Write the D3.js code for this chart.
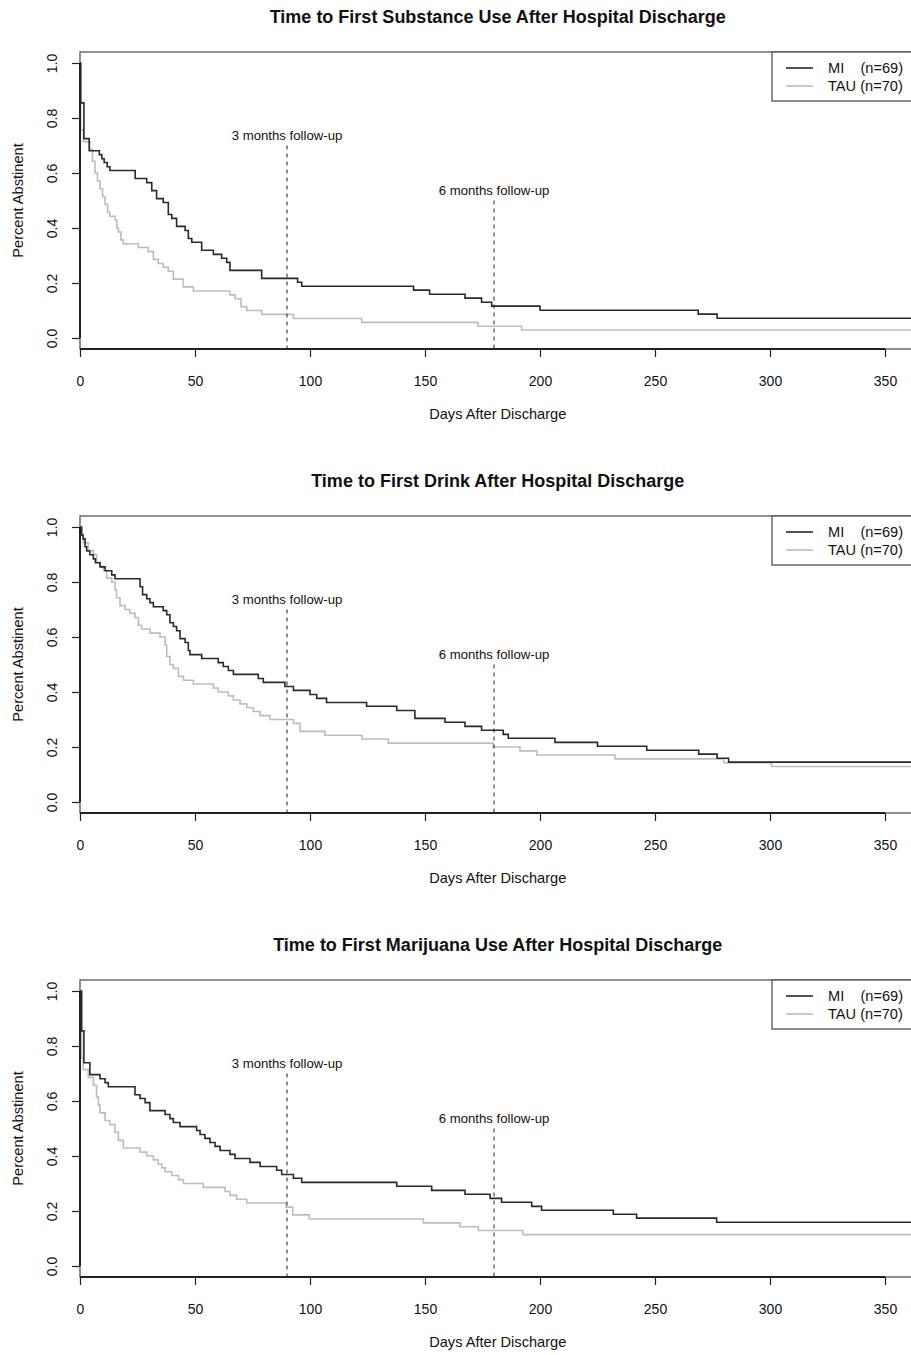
<!DOCTYPE html>
<html>
<head>
<meta charset="utf-8">
<script src="https://cdn.jsdelivr.net/npm/d3@7"></script>
<style>
body { margin: 0; background: #fff; }
text { font-family: "Liberation Sans", Arial, Helvetica, sans-serif; fill: #111; }
</style>
</head>
<body>
<script>
// Chart data
var titles = ["Time to First Substance Use After Hospital Discharge",
              "Time to First Drink After Hospital Discharge",
              "Time to First Marijuana Use After Hospital Discharge"];
var legendLabels = ["MI    (n=69)", "TAU (n=70)"];
var xTicks = [0, 50, 100, 150, 200, 250, 300, 350];
var yTicks = [0, 0.2, 0.4, 0.6, 0.8, 1.0];
var followUps = [90, 180];
var followUpLabels = ["3 months follow-up", "6 months follow-up"];

var substanceMiDays = [0, 0.3, 1.7, 4, 8.4, 9.5, 10.5, 11.8, 13, 24, 29, 31.2, 33.3, 36.2, 38.4, 39.9, 42, 45.7, 47.1, 48.6, 52.9, 58, 61.6, 63.8, 65.2, 79, 94.6, 96.4, 145, 152, 167.4, 174.6, 179, 200, 268.8, 277];
var substanceMiSurv = [1, 0.855, 0.725, 0.681, 0.667, 0.652, 0.638, 0.623, 0.609, 0.580, 0.565, 0.536, 0.507, 0.493, 0.449, 0.435, 0.406, 0.391, 0.362, 0.348, 0.319, 0.304, 0.290, 0.275, 0.246, 0.217, 0.203, 0.188, 0.174, 0.159, 0.145, 0.130, 0.116, 0.101, 0.087, 0.072];
var substanceTauDays = [0, 0.3, 1.45, 4.3, 5.4, 6.5, 7.6, 8.7, 9.8, 10.9, 12, 13, 15.2, 16, 16.7, 17.8, 18.8, 25.4, 29.7, 31.9, 34, 36.2, 38.4, 40.6, 44.9, 49.3, 65.2, 67.4, 70, 72.5, 79, 92.8, 122.5, 173, 192];
var substanceTauSurv = [1, 0.757, 0.714, 0.686, 0.643, 0.600, 0.571, 0.543, 0.514, 0.486, 0.457, 0.443, 0.429, 0.400, 0.386, 0.357, 0.343, 0.329, 0.314, 0.286, 0.271, 0.257, 0.243, 0.214, 0.186, 0.171, 0.157, 0.143, 0.114, 0.100, 0.086, 0.071, 0.057, 0.043, 0.029];

var drinkMiDays = [0, 0.7, 1.4, 2.2, 2.9, 4.3, 5.8, 6.7, 8.7, 10.9, 13.8, 15.2, 26.1, 27.2, 29, 30.4, 31.9, 36.2, 37.7, 39.1, 40.6, 42, 43.5, 45.7, 47.1, 47.8, 52.9, 60.1, 62.3, 64.5, 66.7, 77.5, 79.7, 89.1, 92.8, 100, 102.9, 107.2, 124.6, 137.7, 145.6, 158.7, 167.4, 174.6, 184, 186.2, 206.5, 225, 246.4, 269, 277, 282];
var drinkMiSurv = [1, 0.971, 0.957, 0.928, 0.913, 0.899, 0.884, 0.870, 0.855, 0.841, 0.826, 0.812, 0.783, 0.754, 0.739, 0.725, 0.710, 0.696, 0.681, 0.652, 0.638, 0.623, 0.594, 0.580, 0.551, 0.536, 0.522, 0.507, 0.493, 0.478, 0.464, 0.449, 0.435, 0.420, 0.406, 0.391, 0.377, 0.362, 0.348, 0.333, 0.304, 0.290, 0.275, 0.261, 0.246, 0.232, 0.217, 0.203, 0.188, 0.174, 0.159, 0.145];
var drinkTauDays = [0, 0.7, 1.4, 3.6, 5.8, 7.2, 8.7, 10.1, 11.6, 13.8, 15.2, 15.9, 17.4, 19.6, 21.7, 23.9, 25.4, 26.8, 30.4, 34.8, 37, 37.7, 39.1, 40.6, 42.8, 45, 49.3, 58, 60.1, 64.5, 66.7, 69.6, 72.5, 75.4, 78.3, 82.6, 92.8, 95.7, 106.5, 122.5, 134, 179.7, 191.3, 198.6, 232.6, 280, 300.7];
var drinkTauSurv = [1, 0.971, 0.943, 0.914, 0.900, 0.871, 0.857, 0.843, 0.814, 0.800, 0.771, 0.743, 0.714, 0.700, 0.686, 0.671, 0.643, 0.629, 0.614, 0.600, 0.571, 0.529, 0.500, 0.486, 0.457, 0.443, 0.429, 0.414, 0.400, 0.386, 0.371, 0.357, 0.343, 0.329, 0.314, 0.300, 0.286, 0.257, 0.243, 0.229, 0.214, 0.200, 0.186, 0.171, 0.157, 0.143, 0.129];

var marijuanaMiDays = [0, 0.7, 1.7, 4.3, 8.7, 10.9, 12.3, 23.9, 26.1, 28.3, 30.4, 37, 39.1, 40.6, 43.5, 50.7, 52.2, 54.3, 56.5, 58.7, 60.9, 65.2, 67.4, 73.9, 78.3, 85.5, 87.7, 92.8, 96.4, 137.7, 152.9, 167.4, 178.3, 183.3, 196.4, 200.7, 231.9, 242, 276.8];
var marijuanaMiSurv = [1, 0.855, 0.739, 0.696, 0.681, 0.667, 0.652, 0.623, 0.609, 0.594, 0.565, 0.551, 0.536, 0.522, 0.507, 0.493, 0.478, 0.464, 0.449, 0.435, 0.420, 0.406, 0.391, 0.377, 0.362, 0.348, 0.333, 0.319, 0.304, 0.290, 0.275, 0.261, 0.246, 0.232, 0.217, 0.203, 0.188, 0.174, 0.159];
var marijuanaTauDays = [0, 0.7, 1.4, 3.6, 5.8, 7.2, 8, 8.7, 10.9, 13, 15.2, 16.7, 18.8, 26.1, 29, 31.9, 34, 35.5, 37, 39.9, 42.8, 45, 53.6, 63.1, 65.2, 68.1, 72.5, 89.6, 92.5, 99.7, 149.3, 165.2, 173.2, 192.5];
var marijuanaTauSurv = [1, 0.757, 0.714, 0.686, 0.657, 0.614, 0.586, 0.557, 0.529, 0.514, 0.486, 0.457, 0.429, 0.414, 0.400, 0.386, 0.371, 0.357, 0.343, 0.329, 0.314, 0.300, 0.286, 0.271, 0.257, 0.243, 0.229, 0.214, 0.186, 0.171, 0.157, 0.143, 0.129, 0.114];
//////////////////////////////

var maxDay = 365;
var panels = [
	{ title: titles[0], mi: [substanceMiDays, substanceMiSurv], tau: [substanceTauDays, substanceTauSurv] },
	{ title: titles[1], mi: [drinkMiDays, drinkMiSurv], tau: [drinkTauDays, drinkTauSurv] },
	{ title: titles[2], mi: [marijuanaMiDays, marijuanaMiSurv], tau: [marijuanaTauDays, marijuanaTauSurv] }
];

var width = 911, height = 1355;
var left = 80, right = 919.5;
var panelTops = [52, 516, 980];
var panelH = 297;
var colors = ["#2a2a2a", "#bdbdbd"];

var svg = d3.select("body").append("svg")
	.attr("width", width)
	.attr("height", height);

var x = d3.scaleLinear().domain([0, maxDay]).range([left, right]);

function toPoints(series) {
	var pts = series[0].map(function (d, i) { return [d, series[1][i]]; });
	pts.push([maxDay, series[1][series[1].length - 1]]);
	return pts;
}

panels.forEach(function (p, i) {
	var top = panelTops[i], bottom = top + panelH;
	var y = d3.scaleLinear().domain([-0.04, 1.04]).range([bottom, top]);
	var g = svg.append("g");
	var cx = (left + right) / 2;

	// title
	g.append("text")
		.attr("x", cx - 2)
		.attr("y", top - 29)
		.attr("text-anchor", "middle")
		.attr("font-weight", "bold")
		.attr("font-size", "18px")
		.text(p.title);

	// survival curves
	var line = d3.line()
		.x(function (d) { return x(d[0]); })
		.y(function (d) { return y(d[1]); })
		.curve(d3.curveStepAfter);

	[p.tau, p.mi].forEach(function (s, k) {
		g.append("path")
			.datum(toPoints(s))
			.attr("d", line)
			.attr("fill", "none")
			.attr("stroke", colors[1 - k])
			.attr("stroke-width", 1.6);
	});

	// follow-up markers
	followUps.forEach(function (f, k) {
		var topVal = k === 0 ? 0.70 : 0.50;
		g.append("line")
			.attr("x1", x(f)).attr("x2", x(f))
			.attr("y1", y(topVal)).attr("y2", bottom)
			.attr("stroke", "#222")
			.attr("stroke-width", 1)
			.attr("stroke-dasharray", "4,4");
		g.append("text")
			.attr("x", x(f))
			.attr("y", y(topVal + 0.04) + 5)
			.attr("text-anchor", "middle")
			.attr("font-size", "13.2px")
			.text(followUpLabels[k]);
	});

	// box
	g.append("rect")
		.attr("x", left).attr("y", top)
		.attr("width", right - left).attr("height", panelH)
		.attr("fill", "none")
		.attr("stroke", "#555")
		.attr("stroke-width", 1.3);

	// x axis
	var xAxis = g.append("g")
		.attr("transform", "translate(0," + bottom + ")")
		.call(d3.axisBottom(x).tickValues(xTicks).tickSize(8).tickSizeOuter(0).tickPadding(19).tickFormat(d3.format("d")));
	xAxis.select(".domain").remove();
	xAxis.append("line")
		.attr("x1", x(0)).attr("x2", x(350))
		.attr("stroke", "#222").attr("stroke-width", 2);
	xAxis.selectAll(".tick line").attr("stroke", "#222").attr("stroke-width", 1.2);
	xAxis.selectAll(".tick text")
		.attr("font-size", "14px")
		.attr("font-family", "Liberation Sans, Arial, sans-serif")
		.attr("fill", "#111");

	// y axis
	var yAxis = g.append("g")
		.attr("transform", "translate(" + left + ",0)")
		.call(d3.axisLeft(y).tickValues(yTicks).tickSize(8).tickSizeOuter(0).tickFormat(d3.format(".1f")));
	yAxis.select(".domain").remove();
	yAxis.append("line")
		.attr("y1", y(0)).attr("y2", y(1))
		.attr("stroke", "#222").attr("stroke-width", 2);
	yAxis.selectAll(".tick line").attr("stroke", "#222").attr("stroke-width", 1.2);
	yAxis.selectAll(".tick text")
		.attr("transform", "rotate(-90)")
		.attr("x", 0)
		.attr("y", -23)
		.attr("dy", 0)
		.attr("text-anchor", "middle")
		.attr("font-size", "14px")
		.attr("font-family", "Liberation Sans, Arial, sans-serif")
		.attr("fill", "#111");

	// axis titles
	g.append("text")
		.attr("x", cx - 2)
		.attr("y", bottom + 70)
		.attr("text-anchor", "middle")
		.attr("font-size", "14.6px")
		.text("Days After Discharge");
	g.append("text")
		.attr("transform", "translate(23," + ((top + bottom) / 2) + ") rotate(-90)")
		.attr("text-anchor", "middle")
		.attr("font-size", "14.6px")
		.text("Percent Abstinent");

	// legend
	var lg = g.append("g");
	lg.append("rect")
		.attr("x", 772).attr("y", top)
		.attr("width", right - 772).attr("height", 49)
		.attr("fill", "#fff")
		.attr("stroke", "#444")
		.attr("stroke-width", 1.2);
	legendLabels.forEach(function (lab, k) {
		var ly = top + 16 + k * 18;
		lg.append("line")
			.attr("x1", 786).attr("x2", 813)
			.attr("y1", ly).attr("y2", ly)
			.attr("stroke", colors[k])
			.attr("stroke-width", 1.6);
		lg.append("text")
			.attr("x", 828)
			.attr("y", ly + 5)
			.attr("font-size", "14.6px")
			.style("white-space", "pre")
			.text(lab);
	});
});
</script>
</body>
</html>
